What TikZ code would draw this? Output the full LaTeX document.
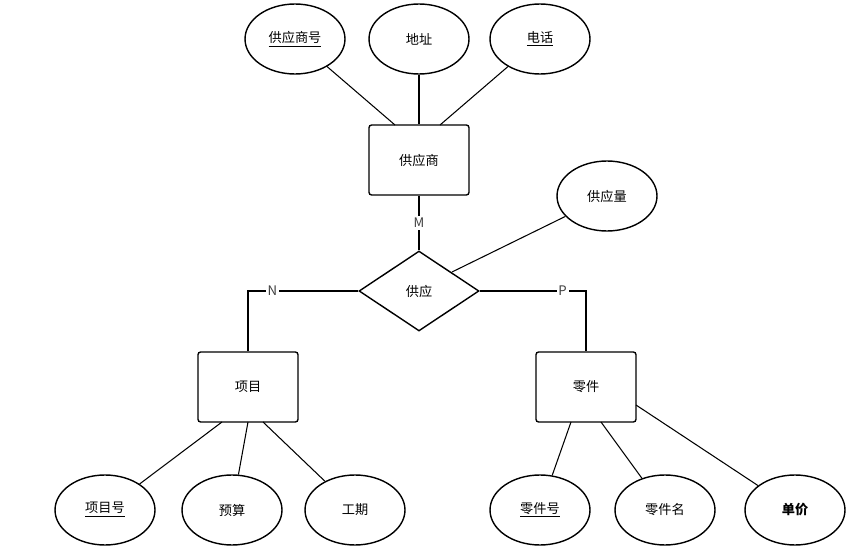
\documentclass[tikz,border=0pt]{standalone}
\usepackage{fontspec}
\setmainfont{Noto Sans CJK SC}
\usetikzlibrary{shapes.geometric}
\tikzset{att/.append style={draw,ellipse,thick,minimum width=2cm,minimum height=1.4cm,inner sep=0pt,font=\fontsize{7.5}{9}\selectfont}}
\tikzset{en/.append style={draw,rectangle,thick,rounded corners=1.5pt,minimum width=2cm,minimum height=1.4cm,font=\fontsize{7.5}{9}\selectfont}}
\tikzset{re/.append style={draw,diamond,thick,aspect=1.5,minimum width=2.4cm,minimum height=1.6cm,inner sep=0pt,font=\fontsize{7.5}{9}\selectfont}}
\tikzset{lb/.append style={fill=white,inner sep=1pt,font=\fontsize{7.5}{9}\selectfont,text=black!75}}

\begin{document}
\begin{tikzpicture}[x=0.02cm,y=-0.02cm,line width=0.6pt]
                \useasboundingbox (0,0) rectangle (866,557);
                % entities
                \node[en] (s) at (419,160) {供应商};
                \node[en] (j) at (248,387) {项目};
                \node[en] (p) at (586,387) {零件};
                \node[re] (r) at (419,291) {供应};
                % attributes
                \node[att] (sno) at (295,39) {\underline{供应商号}};
                \node[att] (addr) at (419,39) {地址};
                \node[att] (tel) at (540,39) {\underline{电话}};
                \node[att] (qty) at (607,196) {供应量};
                \node[att] (jno) at (105,510) {\underline{项目号}};
                \node[att] (bud) at (232,510) {预算};
                \node[att] (dur) at (355,510) {工期};
                \node[att] (pno) at (540,510) {\underline{零件号}};
                \node[att] (pnm) at (665,510) {零件名};
                \node[att] (prc) at (795,510) {\textbf{单价}};
                \coordinate (cn) at (248,291);
                \coordinate (cp) at (586,291);
                \draw (sno) -- (395,125);
                \draw (addr) -- (s);
                \draw (tel) -- (440,125);
                \draw (s) -- node[lb]{M} (r.north);
                \draw (r.west) -- node[lb,pos=0.78]{N} (cn) -- (j);
                \draw (r.east) -- node[lb,pos=0.78]{P} (cp) -- (p);
                \draw (qty) -- (452,272);
                \draw (222,422) -- (jno);
                \draw (248,422) -- (bud);
                \draw (263,422) -- (dur);
                \draw (571,422) -- (pno);
                \draw (601,422) -- (pnm);
                \draw (636,405) -- (prc);
            \end{tikzpicture}
\end{document}
